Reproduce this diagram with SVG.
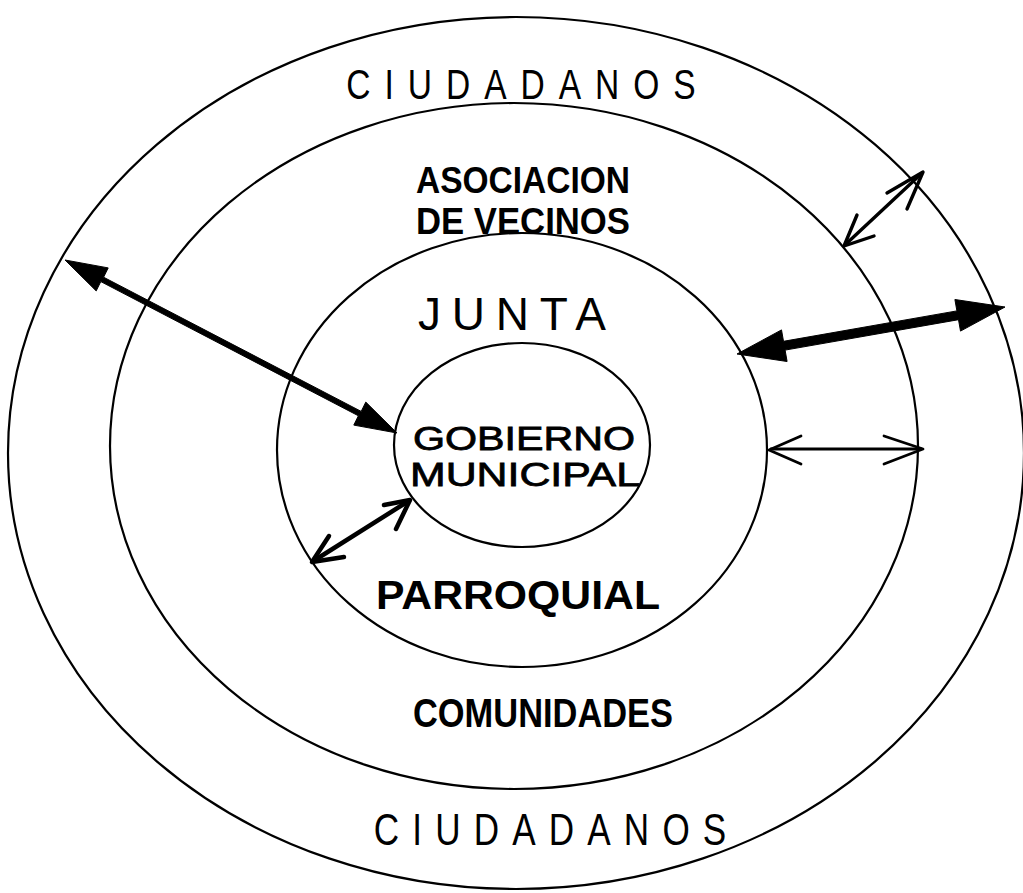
<svg xmlns="http://www.w3.org/2000/svg" width="1023" height="893" viewBox="0 0 1023 893">
<style>
.ring{fill:none;stroke:#000;stroke-width:2.2}
.t{font-family:"Liberation Sans",Arial,sans-serif;fill:#000}
.b{font-weight:bold}
.m{stroke:#000;stroke-width:0.8}
.solid{fill:#000;stroke:#000;stroke-width:1;stroke-linejoin:round}
.thin{fill:none;stroke:#000;stroke-linecap:round;stroke-linejoin:round}
</style>
<rect width="1023" height="893" fill="#fff"/>
<g id="ciudadanos">
<ellipse class="ring" cx="516" cy="453" rx="508" ry="436"/>
<text class="t" transform="translate(521,99) scale(0.78,1)" font-size="43" text-anchor="middle" textLength="448" lengthAdjust="spacing">CIUDADANOS</text>
<text class="t" transform="translate(550,845) scale(0.78,1)" font-size="45" text-anchor="middle" textLength="452" lengthAdjust="spacing">CIUDADANOS</text>
</g>
<g id="asociacion">
<ellipse class="ring" cx="514" cy="446" rx="404" ry="343"/>
<text class="t b" x="523" y="193" font-size="36" text-anchor="middle" textLength="214" lengthAdjust="spacingAndGlyphs">ASOCIACION</text>
<text class="t b" x="523" y="234" font-size="36" text-anchor="middle" textLength="214" lengthAdjust="spacingAndGlyphs">DE VECINOS</text>
<text class="t b" x="543" y="727" font-size="40" text-anchor="middle" textLength="260" lengthAdjust="spacingAndGlyphs">COMUNIDADES</text>
</g>
<g id="junta">
<ellipse class="ring" cx="522" cy="450" rx="245" ry="217"/>
<text class="t" x="512" y="330" font-size="46" text-anchor="middle" textLength="188" lengthAdjust="spacing">JUNTA</text>
<text class="t b" x="518" y="609" font-size="40" text-anchor="middle" textLength="284" lengthAdjust="spacingAndGlyphs">PARROQUIAL</text>
</g>
<g id="gobierno">
<ellipse class="ring" cx="522" cy="445" rx="128" ry="102"/>
<text class="t m" x="524" y="450" font-size="34" text-anchor="middle" textLength="222" lengthAdjust="spacingAndGlyphs">GOBIERNO</text>
<text class="t m" x="525" y="486" font-size="34" text-anchor="middle" textLength="230" lengthAdjust="spacingAndGlyphs">MUNICIPAL</text>
</g>
<g id="connectors">
<polygon class="solid" points="65,260 108.2,267.9 103.6,277.2 361.2,411.4 365.8,402.1 397,433 353.8,425.1 358.4,415.8 100.8,281.6 96.2,290.9"/>
<polygon class="solid" points="737,354 781.5,329.9 783.5,341.3 956.9,310.9 954.9,299.5 1005,307 960.5,331.1 958.5,319.7 785.1,350.1 787.1,361.5"/>
<g class="thin" stroke-width="3.4">
<line x1="846" y1="244" x2="921" y2="174"/>
<polyline points="887,193 923,172 907,209"/>
<polyline points="857,215 844,246 874,236"/>
</g>
<g class="thin" stroke-width="4.5">
<line x1="315" y1="560" x2="407" y2="502"/>
<polyline points="384,505 410,500 396,529"/>
<polyline points="329,536 312,562 344,557"/>
</g>
<g class="thin" stroke-width="2.8">
<line x1="771" y1="449" x2="921" y2="449"/>
<polyline points="801,436 769,450 801,464"/>
<polyline points="884,436 923,449 884,464"/>
</g>
</g>
</svg>
